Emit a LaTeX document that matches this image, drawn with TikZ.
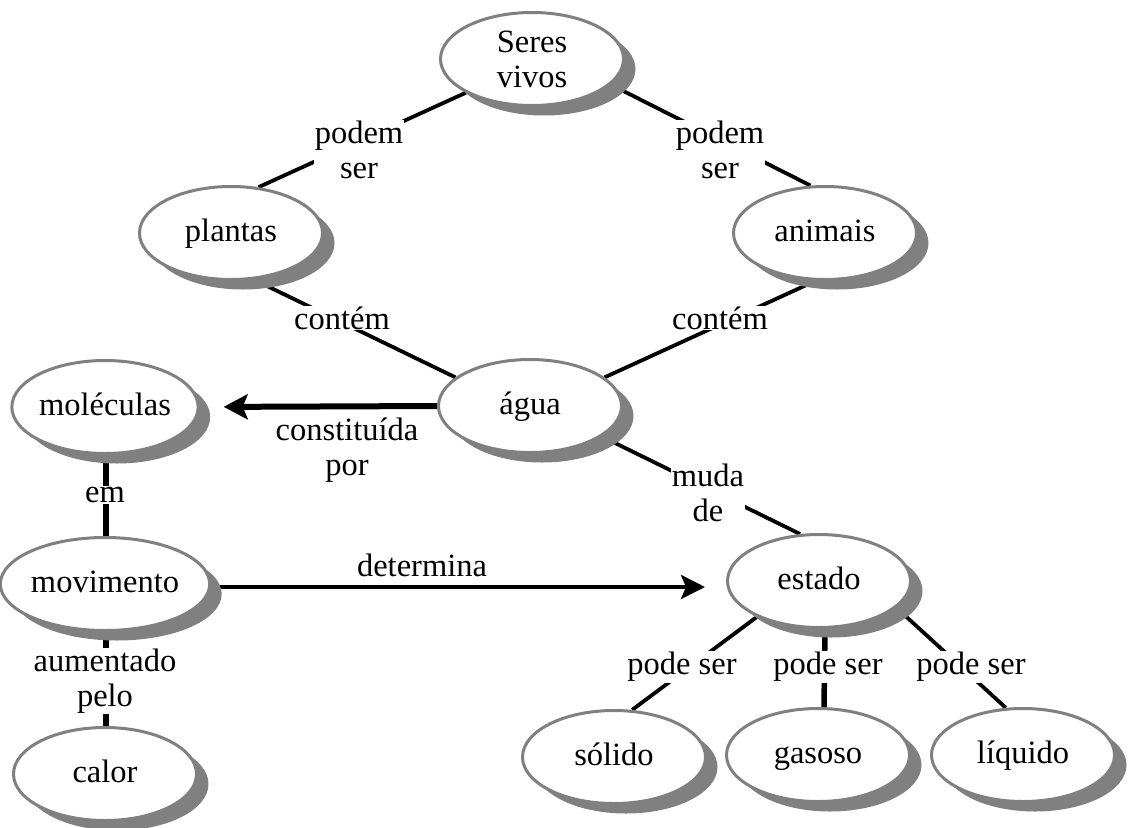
\documentclass[tikz,border=0pt]{standalone}
\usepackage{fontspec}
\setmainfont{Liberation Serif}
\usetikzlibrary{shapes.geometric,shadows,arrows.meta,backgrounds}
\definecolor{rimgray}{RGB}{128,128,128}
\definecolor{shadegray}{RGB}{128,128,128}
\newcommand{\mapfont}{\fontsize{32.5}{35}\selectfont}
\begin{document}
\begin{tikzpicture}[x=1pt,y=-1pt,
  concept/.style={ellipse, draw=rimgray, line width=3pt, fill=white,
    minimum width=183pt, minimum height=93pt, inner sep=0pt,
    align=center, font=\mapfont, text height=23pt, text depth=7pt,
    drop shadow={shadow xshift=12pt, shadow yshift=-10pt, fill=shadegray, opacity=1}},
  twoline/.style={text height={}, text depth={}},
  linkword/.style={fill=white, inner sep=1pt, align=center, font=\mapfont},
  conn/.style={line width=3.8pt, black},
  vconn/.style={line width=5.5pt, black},
  bigarrow/.style={line width=6pt, black, -{Stealth[length=24pt,width=25pt,inset=5pt]}},
  midarrow/.style={line width=4pt, black, -{Stealth[length=24pt,width=24pt,inset=5pt]}}
]
\useasboundingbox (0,0) rectangle (1131,827);

% concepts
\node[concept, twoline] (sv) at (532,59)  {Seres\\vivos};
\node[concept] (pl)      at (231,233) {plantas};
\node[concept] (an)      at (825,233) {animais};
\node[concept] (agua)    at (530,406) {água};
\node[concept] (mol)     at (105,407) {moléculas};
\node[concept] (mov)     at (105,584) {movimento};
\node[concept] (calor)   at (105,774) {calor};
\node[concept] (estado)  at (819,581) {estado};
\node[concept] (solido)  at (614,757) {sólido};
\node[concept] (gasoso)  at (818,755) {gasoso};
\node[concept] (liquido) at (1023,755) {líquido};

% linking words
\node[linkword] (w1)  at (359,150) {podem\\ser};
\node[linkword] (w2)  at (720,150) {podem\\ser};
\node[linkword] (w3)  at (342,318) {contém};
\node[linkword] (w4)  at (720,318) {contém};
\node[linkword] (w5)  at (347,450) {constituída\\por};
\node[linkword] (w6)  at (708,493) {muda\\de};
\node[linkword] (w7)  at (422,565) {determina};
\node[linkword] (w8)  at (105,495) {em};
\node[linkword] (w9)  at (105,681) {aumentado\\pelo};
\node[linkword] (w10) at (682,667) {pode ser};
\node[linkword] (w11) at (828,667) {pode ser};
\node[linkword] (w12) at (971,667) {pode ser};

% connectors, kept behind the concepts and their shadows
\begin{pgfonlayer}{background}
  \fill[white] (0,0) rectangle (1131,827);
  \draw[conn] (sv.207) -- (pl.59);
  \draw[conn] (sv.-18) -- (an.107);
  \draw[conn] (pl.296) -- (agua.159);
  \draw[conn] (an.259) -- (agua.21);
  \draw[conn] (agua.337) -- (estado.112);
  \draw[bigarrow, shorten >=24pt] (agua.west) -- (mol.east);
  \draw[midarrow, shorten >=21pt] ([yshift=-3pt]mov.east) -- ([yshift=-3pt]mov.east -| estado.west);
  \draw[vconn] ([xshift=1pt]mol.south) -- ([xshift=1pt]mov.north);
  \draw[vconn] ([xshift=1pt]mov.south) -- ([xshift=1pt]calor.north);
  \draw[conn] (estado.210) -- (solido.69);
  \draw[vconn] ([xshift=6pt]estado.south) -- ([xshift=6pt]gasoso.north);
  \draw[conn] (estado.341) -- (liquido.110);
\end{pgfonlayer}
\end{tikzpicture}
\end{document}
